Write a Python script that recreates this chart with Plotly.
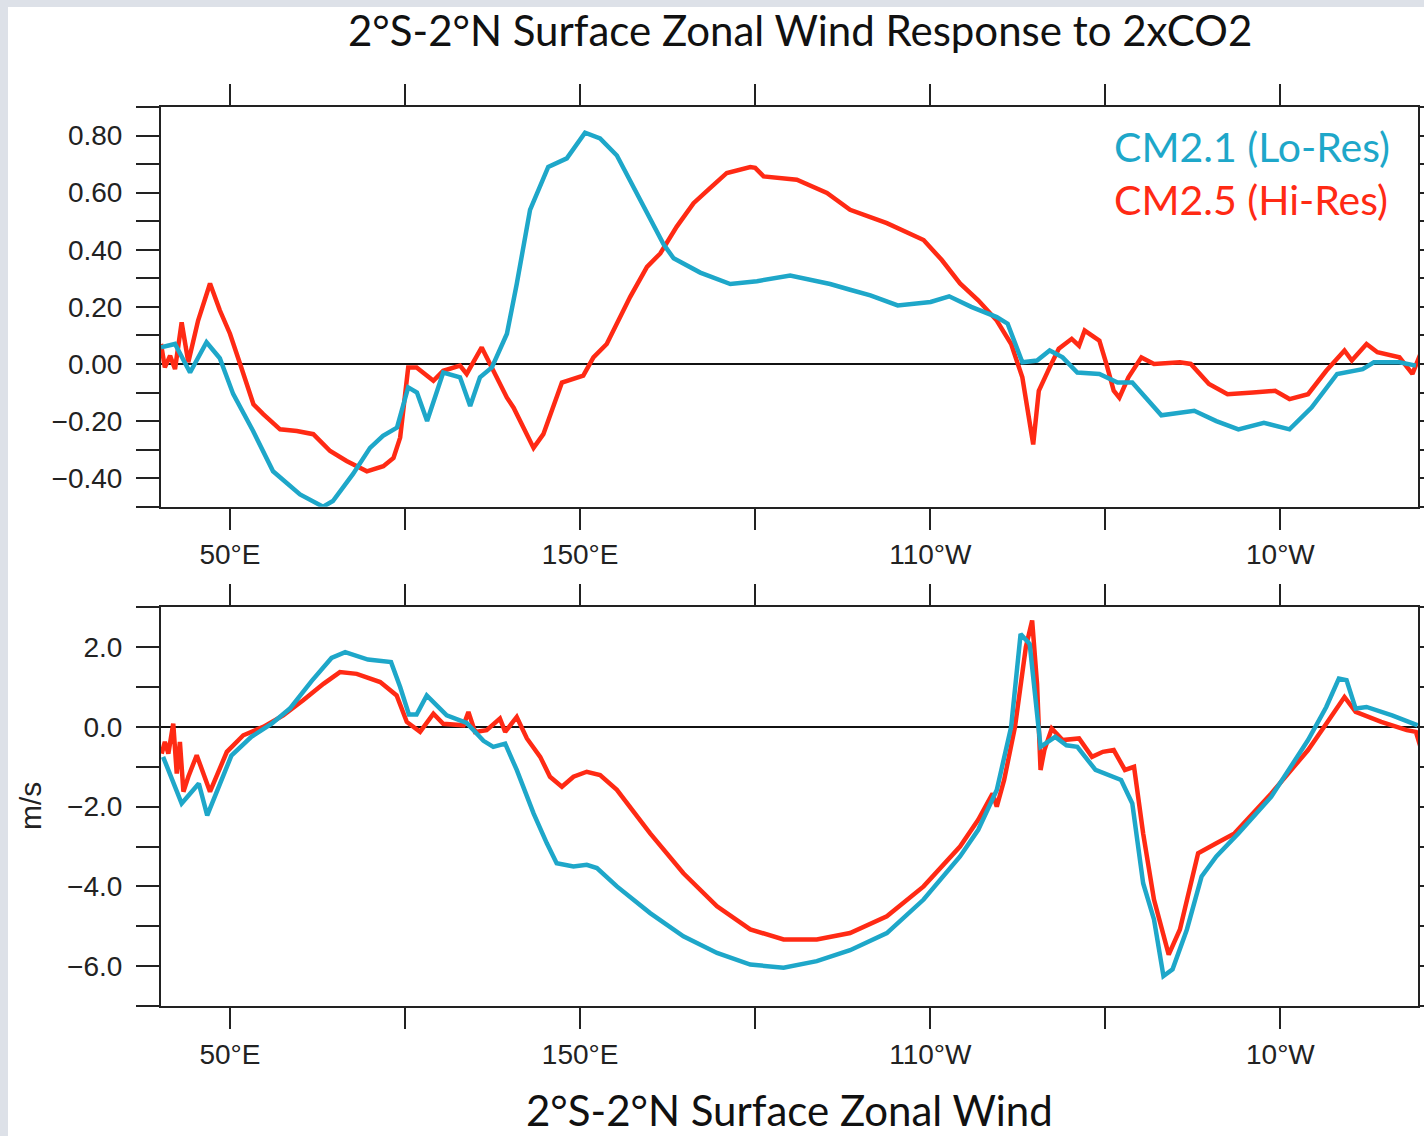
import plotly.graph_objects as go

# ---------------- data (longitude in degrees east, 30..390) ----------------
top_lon_cm21 = [30.3, 34.3, 38.6, 43.3, 47.1, 50.9, 56.6, 62.3, 70.0, 76.6, 79.4, 85.1, 90.0, 93.7,
                97.7, 100.9, 103.4, 106.3, 110.9, 115.7, 118.6, 121.4, 124.8, 129.1, 131.9, 135.7,
                140.9, 146.2, 151.4, 155.7, 160.5, 166.2, 173.8, 176.7, 184.3, 192.9, 200.5, 210.0,
                221.4, 227.1, 232.9, 240.7, 250.1, 255.4, 261.7, 269.0, 272.1, 276.3, 280.5, 284.1,
                287.8, 292.0, 298.3, 303.5, 307.7, 316.0, 321.3, 325.4, 331.7, 338.0, 345.3, 352.6,
                358.9, 366.2, 373.5, 376.7, 384.0, 388.7]
top_cm21 = [0.058, 0.07, -0.03, 0.076, 0.02, -0.105, -0.235, -0.376, -0.457, -0.50, -0.48, -0.386,
            -0.294, -0.252, -0.223, -0.082, -0.10, -0.20, -0.03, -0.047, -0.147, -0.047, -0.012,
            0.106, 0.28, 0.54, 0.69, 0.72, 0.81, 0.79, 0.73, 0.60, 0.42, 0.37, 0.32, 0.28, 0.29,
            0.31, 0.28, 0.26, 0.24, 0.205, 0.217, 0.237, 0.20, 0.164, 0.141, 0.006, 0.012, 0.047,
            0.023, -0.03, -0.035, -0.065, -0.065, -0.18, -0.17, -0.164, -0.20, -0.229, -0.206,
            -0.229, -0.153, -0.035, -0.018, 0.006, 0.006, -0.006]

top_lon_cm25 = [30.3, 31.4, 32.9, 34.3, 36.2, 38.1, 40.9, 44.3, 47.1, 50.0, 52.9, 56.7, 59.5, 64.3,
                69.1, 73.8, 78.6, 83.3, 89.1, 93.8, 96.7, 98.6, 100.9, 103.3, 108.1, 110.9, 115.7,
                117.6, 121.9, 124.8, 129.1, 131.0, 133.8, 136.7, 139.5, 144.8, 150.9, 153.8, 157.6,
                164.3, 169.1, 172.9, 177.6, 182.4, 187.1, 191.9, 198.6, 200.0, 202.4, 211.9, 220.5,
                227.1, 237.6, 248.1, 253.3, 258.5, 263.7, 269.0, 273.1, 276.3, 279.4, 281.0, 284.1,
                286.7, 290.4, 292.5, 294.1, 298.3, 300.3, 302.4, 304.0, 306.6, 310.3, 313.9, 321.3,
                324.4, 329.6, 334.9, 342.2, 348.5, 352.6, 357.9, 363.1, 368.3, 370.4, 374.6, 377.7,
                384.0, 387.7, 390.0]
top_cm25 = [0.07, -0.012, 0.029, -0.018, 0.146, 0.006, 0.152, 0.282, 0.188, 0.106, 0.0, -0.141,
            -0.176, -0.229, -0.235, -0.246, -0.305, -0.34, -0.376, -0.358, -0.329, -0.258, -0.012,
            -0.012, -0.059, -0.024, -0.006, -0.035, 0.058, -0.012, -0.118, -0.153, -0.223, -0.294,
            -0.246, -0.065, -0.041, 0.023, 0.07, 0.235, 0.34, 0.387, 0.481, 0.563, 0.616, 0.669,
            0.69, 0.687, 0.657, 0.645, 0.599, 0.54, 0.493, 0.434, 0.364, 0.282, 0.223, 0.152, 0.07,
            -0.047, -0.282, -0.094, -0.012, 0.053, 0.088, 0.064, 0.117, 0.082, 0.0, -0.094, -0.118,
            -0.047, 0.023, 0.0, 0.006, 0.0, -0.07, -0.106, -0.10, -0.094, -0.123, -0.106, -0.024,
            0.047, 0.012, 0.07, 0.041, 0.023, -0.035, 0.035]

bot_lon_cm21 = [30.9, 36.2, 41.1, 43.5, 50.4, 56.1, 61.9, 67.1, 73.3, 79.0, 82.9, 89.4, 96.0, 98.6,
                101.1, 103.3, 106.2, 111.9, 117.6, 120.5, 122.4, 125.2, 128.6, 131.9, 136.7, 140.5,
                143.3, 148.1, 151.9, 154.8, 160.5, 170.0, 179.5, 189.1, 198.6, 208.1, 217.6, 227.1,
                237.6, 248.1, 258.5, 263.7, 269.0, 273.1, 275.8, 278.4, 281.5, 285.7, 288.9, 292.0,
                297.2, 304.5, 307.7, 310.8, 313.9, 316.6, 319.2, 323.3, 327.5, 331.7, 338.0, 347.4,
                357.9, 363.1, 366.7, 368.9, 371.5, 374.6, 381.9, 389.2]
bot_cm21 = [-0.75, -1.92, -1.42, -2.22, -0.72, -0.25, 0.08, 0.46, 1.15, 1.73, 1.875, 1.69, 1.625,
            1.0, 0.31, 0.31, 0.79, 0.29, 0.10, -0.15, -0.35, -0.5, -0.42, -1.08, -2.17, -2.92,
            -3.42, -3.5, -3.46, -3.54, -4.0, -4.67, -5.25, -5.67, -5.96, -6.04, -5.875, -5.6,
            -5.17, -4.33, -3.25, -2.58, -1.58, 0.0, 2.33, 2.08, -0.5, -0.25, -0.46, -0.5, -1.08,
            -1.33, -1.92, -3.92, -4.83, -6.25, -6.08, -5.08, -3.75, -3.25, -2.67, -1.75, -0.33,
            0.5, 1.21, 1.17, 0.46, 0.5, 0.29, 0.04]

bot_lon_cm25 = [30.5, 31.4, 32.4, 33.8, 34.8, 35.7, 36.7, 38.1, 40.5, 44.3, 49.1, 53.8, 59.5, 65.2,
                70.9, 76.7, 81.4, 86.2, 92.9, 97.6, 100.5, 104.3, 108.1, 110.9, 116.7, 118.1, 120.0,
                123.3, 127.1, 128.6, 131.9, 134.8, 138.6, 141.4, 144.8, 148.1, 151.9, 155.7, 160.5,
                170.0, 179.5, 189.1, 198.6, 208.1, 217.6, 227.1, 237.6, 248.1, 258.5, 263.7, 267.8,
                269.0, 271.1, 274.2, 277.3, 279.1, 280.5, 281.5, 282.6, 284.7, 287.8, 292.5, 296.2,
                299.3, 302.4, 305.6, 308.2, 310.8, 313.9, 318.1, 321.3, 326.5, 331.7, 336.9, 347.4,
                357.9, 363.1, 368.3, 371.5, 378.8, 386.1, 388.7, 390.0]
bot_cm25 = [-0.67, -0.375, -0.67, 0.08, -1.17, -0.375, -1.625, -1.25, -0.71, -1.625, -0.625, -0.21,
            0.0, 0.29, 0.67, 1.08, 1.375, 1.33, 1.125, 0.79, 0.125, -0.125, 0.33, 0.08, 0.04, 0.375,
            -0.125, -0.08, 0.21, -0.125, 0.25, -0.29, -0.75, -1.25, -1.5, -1.25, -1.125, -1.21,
            -1.58, -2.67, -3.67, -4.5, -5.08, -5.33, -5.33, -5.17, -4.75, -4.0, -3.0, -2.33, -1.67,
            -2.0, -1.33, 0.0, 2.0, 2.67, 1.08, -1.08, -0.58, -0.04, -0.33, -0.29, -0.75, -0.625,
            -0.58, -1.08, -1.0, -2.67, -4.33, -5.71, -5.08, -3.17, -2.92, -2.67, -1.67, -0.58, 0.08,
            0.75, 0.375, 0.125, -0.08, -0.125, -0.5]

x_tickvals = [50, 100, 150, 200, 250, 300, 350]
x_ticktext = ["50°E", "", "150°E", "", "110°W", "", "10°W"]

top_tickvals = [-0.5, -0.4, -0.3, -0.2, -0.1, 0.0, 0.1, 0.2, 0.3, 0.4, 0.5, 0.6, 0.7, 0.8, 0.9]
top_ticktext = ["", "\u22120.40", "", "\u22120.20", "", "0.00", "", "0.20", "", "0.40", "",
                "0.60", "", "0.80", ""]
bot_tickvals = [-7, -6, -5, -4, -3, -2, -1, 0, 1, 2, 3]
bot_ticktext = ["", "\u22126.0", "", "\u22124.0", "", "\u22122.0", "", "0.0", "", "2.0", ""]

labels = ["CM2.1 (Lo-Res)", "CM2.5 (Hi-Res)"]
title_text = "2°S-2°N Surface Zonal Wind Response to 2xCO2"
xtitle_text = "2°S-2°N Surface Zonal Wind"
ytitle_text = "m/s"

# ---------------- style ----------------
CYAN = "#1ea7c9"
RED = "#ff2a14"
FRAME = "#222222"
W, H = 1424, 1136
ML, MR, MT, MB = 161, 6, 107, 130
PW, PH = W - ML - MR, H - MT - MB


def px_x(p):
    return (p - ML) / PW


def px_y(p):
    return (H - MB - p) / PH


tickfont = dict(family="Liberation Sans, Arial, sans-serif", size=28, color="#222222")
textfont = "Lato, Open Sans, sans-serif"

fig = go.Figure()
fig.add_trace(go.Scatter(x=top_lon_cm25, y=top_cm25, mode="lines", line=dict(color=RED, width=4.5),
                         xaxis="x", yaxis="y", showlegend=False, hoverinfo="skip"))
fig.add_trace(go.Scatter(x=top_lon_cm21, y=top_cm21, mode="lines", line=dict(color=CYAN, width=4.5),
                         xaxis="x", yaxis="y", showlegend=False, hoverinfo="skip"))
fig.add_trace(go.Scatter(x=bot_lon_cm25, y=bot_cm25, mode="lines", line=dict(color=RED, width=4.5),
                         xaxis="x2", yaxis="y2", showlegend=False, hoverinfo="skip"))
fig.add_trace(go.Scatter(x=bot_lon_cm21, y=bot_cm21, mode="lines", line=dict(color=CYAN, width=4.5),
                         xaxis="x2", yaxis="y2", showlegend=False, hoverinfo="skip"))

xcommon = dict(range=[30.3, 389.3], tickmode="array", tickvals=x_tickvals, ticktext=x_ticktext,
               ticks="outside", ticklen=21, tickwidth=2, tickcolor=FRAME, showline=True,
               linecolor=FRAME, linewidth=2, mirror="ticks", showgrid=False, zeroline=False,
               tickfont=tickfont, ticklabelstandoff=1, automargin=False)
ycommon = dict(tickmode="array", ticks="outside", ticklen=23, tickwidth=2, tickcolor=FRAME,
               showline=True, linecolor=FRAME, linewidth=2, mirror="ticks", showgrid=False,
               zeroline=True, zerolinecolor="#111111", zerolinewidth=2, tickfont=tickfont,
               ticklabelstandoff=8, automargin=False)

top_bottom_px, bot_top_px = 506.7, 607.3
fig.update_layout(
    width=W, height=H, autosize=False,
    margin=dict(l=ML, r=MR, t=MT, b=MB, autoexpand=False),
    paper_bgcolor="#dde1e8", plot_bgcolor="white",
    xaxis=dict(domain=[0, 1], anchor="y", **xcommon),
    yaxis=dict(domain=[px_y(top_bottom_px), 1], anchor="x", range=[-0.5, 0.9],
               tickvals=top_tickvals, ticktext=top_ticktext, **ycommon),
    xaxis2=dict(domain=[0, 1], anchor="y2", **xcommon),
    yaxis2=dict(domain=[0, px_y(bot_top_px)], anchor="x2", range=[-7, 3],
                tickvals=bot_tickvals, ticktext=bot_ticktext, **ycommon),
    shapes=[dict(type="rect", xref="paper", yref="paper", layer="below",
                 x0=px_x(8), x1=px_x(W + 5), y0=px_y(H + 5), y1=px_y(7),
                 fillcolor="white", line=dict(width=0))],
    annotations=[
        dict(text=title_text, xref="paper", yref="paper", x=px_x(800), y=px_y(30),
             xanchor="center", yanchor="middle", showarrow=False,
             font=dict(family=textfont, size=42, color="#111111")),
        dict(text=xtitle_text, xref="paper", yref="paper", x=px_x(790), y=px_y(1110),
             xanchor="center", yanchor="middle", showarrow=False,
             font=dict(family=textfont, size=42, color="#111111")),
        dict(text=ytitle_text, xref="paper", yref="paper", x=px_x(30), y=px_y(806),
             xanchor="center", yanchor="middle", showarrow=False, textangle=-90,
             font=dict(family="Liberation Sans, Arial, sans-serif", size=30, color="#222222")),
        dict(text=labels[0], xref="paper", yref="paper", x=px_x(1112), y=px_y(146),
             xanchor="left", yanchor="middle", showarrow=False,
             font=dict(family=textfont, size=41, color=CYAN)),
        dict(text=labels[1], xref="paper", yref="paper", x=px_x(1112), y=px_y(199),
             xanchor="left", yanchor="middle", showarrow=False,
             font=dict(family=textfont, size=41, color=RED)),
    ],
)

fig.write_html("out.html",
               config=dict(displayModeBar=False, responsive=False),
               post_script="document.body.style.margin='0px';"
                           "document.body.style.overflow='hidden';")
